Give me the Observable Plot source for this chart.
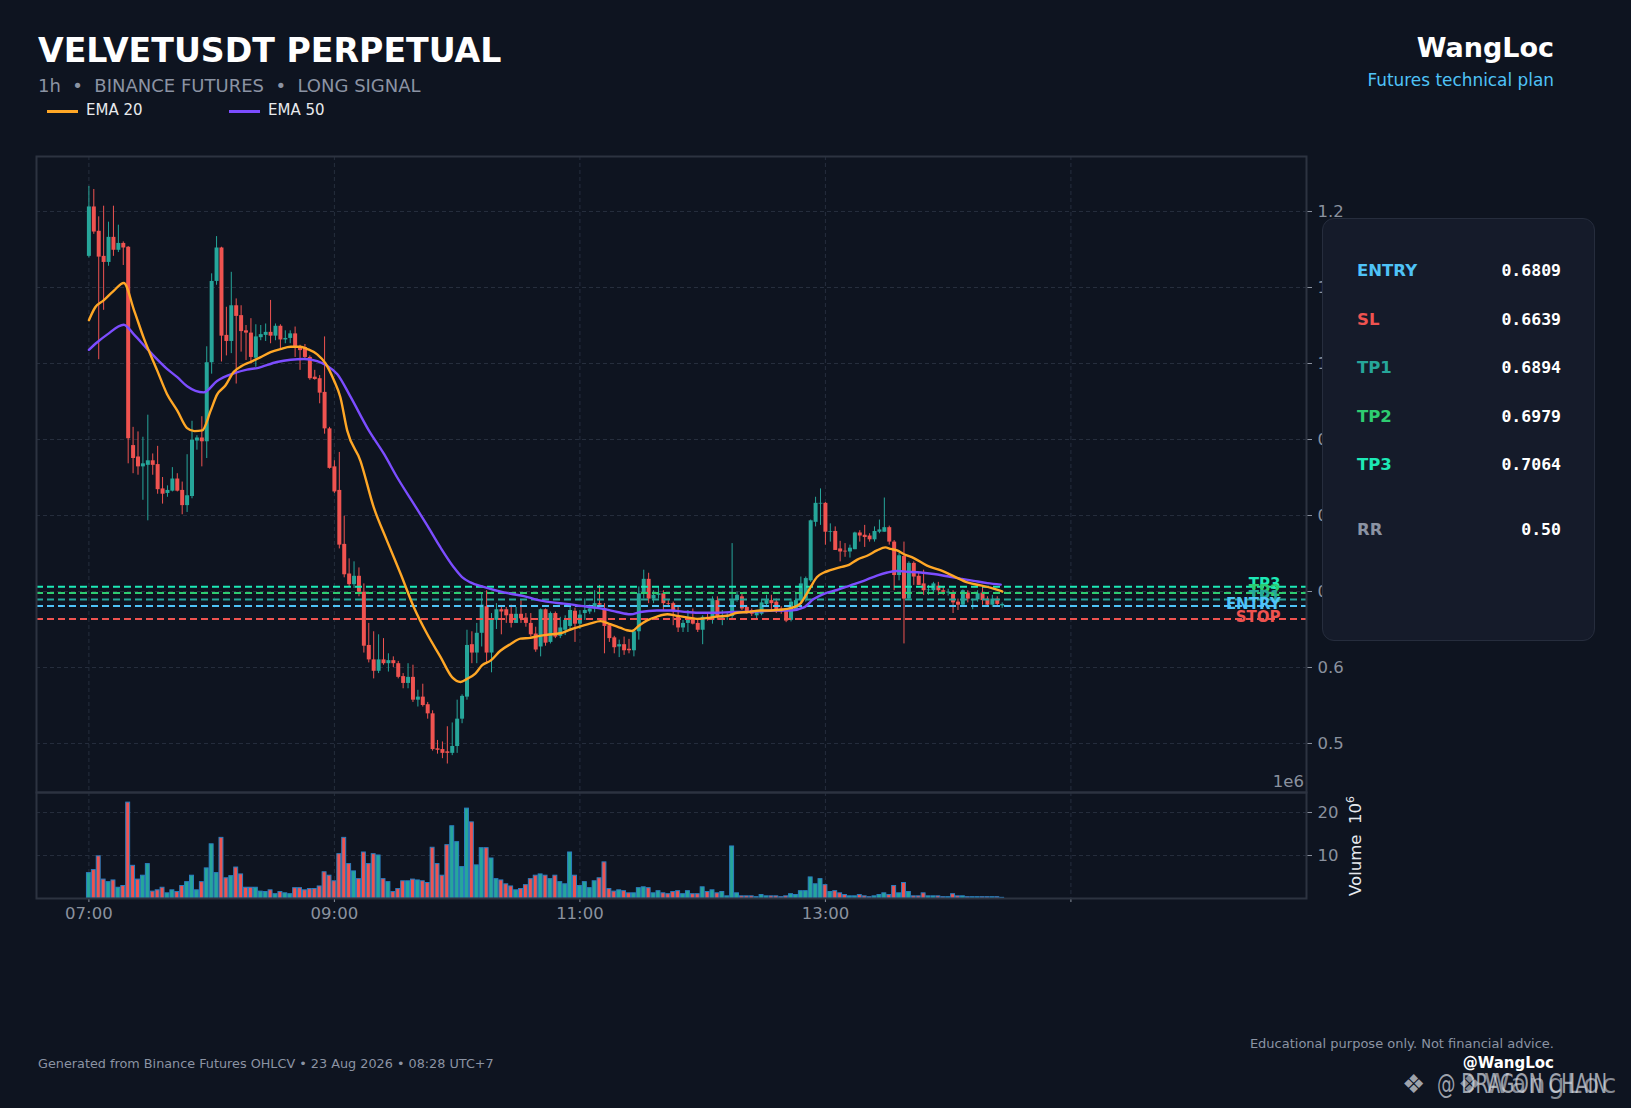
<!DOCTYPE html>
<html><head><meta charset="utf-8">
<script src="https://cdn.jsdelivr.net/npm/d3@7"></script>
<script src="https://cdn.jsdelivr.net/npm/@observablehq/plot@0.6"></script>
<style>
body{margin:0;background:#0e1420;}
#root{position:relative;width:1631px;height:1108px;background:#0e1420;overflow:hidden;font-family:"DejaVu Sans",sans-serif;}
.abs{position:absolute;white-space:pre;line-height:1;}
#price,#vol{position:absolute;left:0;}
#price{top:0;} #vol{top:792px;}
#panel{position:absolute;left:1322px;top:218px;width:271px;height:421px;background:#151b2a;border:1.5px solid #262d3d;border-radius:12px;}
.lbl{position:absolute;left:34px;font-weight:bold;font-size:16.5px;line-height:1;}
.val{position:absolute;right:33px;font-family:"DejaVu Sans Mono",monospace;font-weight:bold;font-size:16.5px;color:#ffffff;line-height:1;}
.wm{position:absolute;white-space:pre;line-height:1;font-size:26px;color:rgba(215,219,226,0.72);transform-origin:0 50%;}
</style></head><body>
<div id="root">
  <div id="price"></div>
  <div id="vol"></div>
  <div class="abs" style="left:38px;top:34px;font-size:33.2px;font-weight:bold;color:#ffffff;">VELVETUSDT PERPETUAL</div>
  <div class="abs" style="left:38px;top:77px;font-size:18px;color:#8b93a3;">1h  •  BINANCE FUTURES  •  LONG SIGNAL</div>
  <div id="legend"></div>
  <div class="abs" style="right:77px;top:34px;font-size:27px;font-weight:bold;color:#ffffff;">WangLoc</div>
  <div class="abs" style="right:77px;top:71.5px;font-size:16.9px;color:#4fc3f7;">Futures technical plan</div>
  <div id="panel"></div>
  <div class="abs" style="right:327px;top:774px;font-size:16.5px;color:#8a919e;">1e6</div>
  <div class="abs" style="left:1355px;top:846px;font-size:16.5px;color:#e6e9ee;transform:translate(-50%,-50%) rotate(-90deg);">Volume  10<sup style="font-size:11px;vertical-align:7px;">6</sup></div>
  <div class="abs" style="left:38px;top:1057.5px;font-size:12.8px;color:#8b93a3;">Generated from Binance Futures OHLCV • 23 Aug 2026 • 08:28 UTC+7</div>
  <div class="abs" style="right:77px;top:1036.5px;font-size:13px;color:#8b93a3;">Educational purpose only. Not financial advice.</div>
  <div class="abs" style="right:77px;top:1056px;font-size:15px;font-weight:bold;color:#ffffff;">@WangLoc</div>
  <div class="wm" style="left:1402px;top:1071px;">❖</div>
  <div class="wm" style="left:1437px;top:1071px;transform:scaleX(0.71);">@ DRAGON CHAIN</div>
  <div class="wm" style="left:1458px;top:1071px;color:rgba(215,219,226,0.6);">❖</div>
  <div class="wm" style="left:1484px;top:1071px;letter-spacing:2.5px;color:rgba(215,219,226,0.6);">WangLoc</div>
</div>
<script>
// ---------------- DATA ----------------
const opens = [
1.141,1.206,1.174,1.141,1.133,1.166,1.149,1.158,1.153,0.892,
0.877,0.864,0.866,0.872,0.867,0.835,0.829,0.832,0.848,0.833,
0.813,0.825,0.898,0.902,0.897,1.001,1.108,1.152,1.037,1.029,
1.076,1.063,1.043,1.040,1.007,1.034,1.037,1.041,1.036,1.049,
1.031,1.033,1.039,1.022,1.021,1.008,0.982,0.980,0.962,0.914,
0.864,0.833,0.762,0.723,0.709,0.720,0.699,0.629,0.610,0.595,
0.610,0.605,0.609,0.605,0.588,0.579,0.587,0.557,0.561,0.551,
0.539,0.493,0.492,0.489,0.487,0.496,0.532,0.561,0.630,0.619,
0.645,0.680,0.619,0.662,0.676,0.676,0.670,0.658,0.670,0.665,
0.658,0.644,0.627,0.676,0.633,0.671,0.641,0.649,0.654,0.674,
0.657,0.671,0.673,0.677,0.684,0.677,0.655,0.639,0.627,0.630,
0.624,0.622,0.647,0.697,0.716,0.690,0.695,0.697,0.684,0.684,
0.666,0.652,0.658,0.665,0.658,0.649,0.666,0.662,0.688,0.665,
0.666,0.667,0.688,0.693,0.679,0.675,0.668,0.670,0.683,0.688,
0.686,0.677,0.674,0.662,0.675,0.688,0.690,0.714,0.791,0.815,
0.816,0.778,0.779,0.756,0.753,0.752,0.755,0.777,0.774,0.773,
0.768,0.778,0.778,0.784,0.765,0.721,0.746,0.690,0.737,0.720,
0.710,0.701,0.701,0.707,0.701,0.698,0.698,0.686,0.682,0.698,
0.688,0.689,0.698,0.690,0.682,0.690,0.681];
const highs = [
1.233,1.229,1.193,1.207,1.186,1.207,1.182,1.160,1.154,0.916,
0.910,0.903,0.932,0.881,0.891,0.850,0.839,0.863,0.855,0.844,
0.880,0.924,0.905,0.930,1.022,1.118,1.167,1.153,1.074,1.120,
1.085,1.076,1.050,1.059,1.051,1.050,1.052,1.083,1.052,1.051,
1.043,1.043,1.048,1.024,1.025,1.010,0.991,0.984,1.035,0.916,
0.872,0.883,0.799,0.743,0.739,0.731,0.710,0.658,0.647,0.643,
0.638,0.618,0.614,0.608,0.592,0.605,0.603,0.570,0.578,0.554,
0.543,0.504,0.502,0.522,0.527,0.557,0.564,0.649,0.647,0.658,
0.697,0.701,0.671,0.684,0.679,0.679,0.682,0.679,0.688,0.671,
0.671,0.653,0.677,0.677,0.673,0.673,0.666,0.668,0.684,0.678,
0.675,0.690,0.682,0.701,0.708,0.684,0.656,0.641,0.636,0.640,
0.637,0.650,0.706,0.728,0.724,0.701,0.706,0.701,0.688,0.686,
0.679,0.662,0.675,0.677,0.662,0.668,0.671,0.693,0.693,0.675,
0.672,0.763,0.699,0.697,0.681,0.677,0.675,0.690,0.695,0.695,
0.690,0.680,0.676,0.690,0.697,0.719,0.719,0.794,0.824,0.835,
0.817,0.789,0.785,0.766,0.763,0.761,0.778,0.780,0.787,0.776,
0.785,0.794,0.823,0.786,0.767,0.750,0.765,0.739,0.739,0.725,
0.728,0.708,0.712,0.712,0.706,0.703,0.701,0.690,0.702,0.701,
0.690,0.701,0.706,0.693,0.695,0.693,0.685];
const lows = [
1.139,1.170,1.005,1.070,1.128,1.141,1.146,1.129,0.868,0.855,
0.853,0.820,0.793,0.853,0.828,0.815,0.824,0.831,0.831,0.801,
0.804,0.822,0.886,0.864,0.875,0.986,1.103,1.002,1.010,1.013,
0.973,1.015,1.004,0.999,0.995,1.030,1.029,1.026,1.030,1.019,
1.026,1.026,1.008,0.991,1.004,0.978,0.978,0.947,0.907,0.861,
0.829,0.756,0.718,0.706,0.704,0.693,0.619,0.606,0.585,0.592,
0.603,0.594,0.600,0.585,0.572,0.572,0.554,0.548,0.548,0.532,
0.490,0.486,0.480,0.473,0.484,0.487,0.526,0.557,0.605,0.605,
0.627,0.605,0.593,0.650,0.643,0.658,0.652,0.658,0.658,0.653,
0.640,0.620,0.614,0.628,0.631,0.638,0.638,0.642,0.649,0.633,
0.650,0.662,0.670,0.672,0.680,0.618,0.633,0.618,0.613,0.616,
0.618,0.614,0.636,0.690,0.684,0.684,0.690,0.675,0.679,0.655,
0.646,0.646,0.646,0.656,0.646,0.630,0.661,0.657,0.662,0.655,
0.662,0.662,0.686,0.675,0.670,0.667,0.664,0.668,0.680,0.675,
0.671,0.670,0.659,0.660,0.674,0.684,0.686,0.712,0.785,0.787,
0.761,0.765,0.754,0.739,0.745,0.744,0.755,0.765,0.758,0.765,
0.765,0.776,0.778,0.761,0.701,0.714,0.631,0.688,0.708,0.708,
0.695,0.695,0.699,0.695,0.695,0.694,0.671,0.675,0.679,0.685,
0.676,0.686,0.682,0.679,0.679,0.679,0.678];
const closes = [
1.206,1.173,1.140,1.133,1.166,1.149,1.158,1.152,0.901,0.875,
0.864,0.868,0.872,0.866,0.834,0.828,0.833,0.848,0.832,0.813,
0.826,0.899,0.902,0.897,1.001,1.108,1.152,1.036,1.029,1.076,
1.062,1.042,1.040,1.008,1.035,1.038,1.041,1.036,1.049,1.031,
1.033,1.039,1.021,1.017,1.008,0.980,0.979,0.961,0.914,0.862,
0.831,0.761,0.722,0.709,0.720,0.699,0.628,0.610,0.595,0.610,
0.605,0.609,0.605,0.587,0.579,0.587,0.557,0.561,0.550,0.539,
0.492,0.491,0.487,0.487,0.496,0.532,0.562,0.629,0.619,0.645,
0.682,0.619,0.662,0.676,0.673,0.668,0.658,0.670,0.664,0.658,
0.643,0.623,0.676,0.632,0.671,0.640,0.652,0.662,0.675,0.657,
0.669,0.675,0.677,0.684,0.682,0.654,0.638,0.626,0.630,0.622,
0.622,0.647,0.697,0.716,0.690,0.695,0.697,0.684,0.683,0.675,
0.652,0.658,0.664,0.657,0.649,0.666,0.664,0.688,0.666,0.667,
0.667,0.688,0.695,0.677,0.673,0.670,0.673,0.685,0.688,0.684,
0.675,0.673,0.661,0.686,0.688,0.710,0.717,0.793,0.816,0.816,
0.778,0.779,0.754,0.752,0.752,0.757,0.777,0.773,0.771,0.768,
0.779,0.781,0.784,0.765,0.721,0.747,0.690,0.737,0.719,0.708,
0.701,0.702,0.710,0.701,0.699,0.699,0.685,0.682,0.701,0.690,
0.689,0.697,0.688,0.682,0.690,0.683,0.683];
// volume in millions
const volumes = [
5.9,6.6,9.8,4.4,3.8,4.2,2.5,2.9,22.3,7.6,
4.4,5.3,8.0,1.6,1.9,2.5,1.2,1.9,1.5,2.9,
3.8,5.3,1.9,3.8,7.0,12.6,5.9,14.1,4.7,5.2,
7.2,5.6,2.5,2.5,2.5,1.6,1.5,1.9,1.0,1.5,
1.2,1.0,2.4,2.4,1.9,2.2,2.2,2.8,6.1,5.3,
4.0,10.3,14.1,8.0,6.3,4.5,10.7,8.0,10.3,10.0,
4.5,3.8,1.5,2.2,4.0,4.0,4.4,4.2,4.0,3.6,
11.8,8.0,5.3,12.4,16.8,13.1,7.3,20.9,17.7,7.7,
11.7,11.7,9.3,4.5,4.2,3.3,2.8,1.9,2.2,3.1,
4.5,5.3,5.6,5.3,4.5,5.3,3.8,3.3,10.7,5.3,
2.9,3.8,2.4,4.0,4.7,8.4,2.2,1.6,1.9,1.7,
1.2,1.2,2.4,2.6,2.4,1.2,1.7,1.2,1.0,1.5,
1.7,1.0,1.7,1.0,1.0,2.6,1.5,1.9,1.2,1.5,
0.5,12.1,1.2,0.5,0.5,0.5,0.3,0.8,0.5,0.5,
0.5,0.3,0.5,1.0,0.8,1.7,1.7,4.9,3.3,4.5,
3.1,1.5,1.7,1.2,0.8,0.5,0.5,0.8,0.5,0.3,
0.5,0.8,1.2,0.8,2.9,1.2,3.6,1.5,0.5,0.5,
1.2,0.5,0.5,0.5,0.3,0.3,1.0,0.5,0.5,0.3,
0.3,0.3,0.3,0.3,0.3,0.3,0.15];
// EMA readings (candle position, value)
const ema20Pos = [0,1.3,3,5.1,7.1,9.2,11.2,13.9,15.9,18,20,21.5,23.1,24.8,26.1,27.8,29.5,31.2,32.9,34.9,37,39,41.1,43.1,44.5,46.5,48.2,49.9,51.2,52.6,55.3,58,60.7,63.5,66.2,68.9,71.6,74,75.7,77,78.7,80.1,81.8,83.8,85.9,87.9,89.9,91.3,93.3,96,98.1,100.1,102.2,104.2,106.2,108.3,109.6,110.6,112,113.7,115.7,117.8,119.8,121.8,123.9,125.9,127.9,130,132,134.1,136.8,138.8,140.9,142.9,144.9,146,147,148.3,149.7,151,153.1,154.8,156.5,158.5,160.5,162.2,163.3,164.6,166,168,170.7,173.4,176.2,178.9,181.6,183.6,186];
const ema20Val = [1.057,1.074,1.083,1.096,1.106,1.070,1.033,0.991,0.960,0.938,0.915,0.911,0.912,0.938,0.959,0.971,0.989,0.997,1.002,1.008,1.015,1.019,1.022,1.022,1.019,1.012,1.000,0.978,0.956,0.912,0.872,0.811,0.767,0.723,0.679,0.644,0.614,0.587,0.581,0.585,0.592,0.603,0.609,0.622,0.631,0.638,0.639,0.641,0.643,0.645,0.650,0.654,0.658,0.661,0.657,0.652,0.649,0.648,0.655,0.662,0.667,0.670,0.668,0.666,0.664,0.665,0.667,0.668,0.672,0.673,0.675,0.675,0.676,0.678,0.684,0.695,0.706,0.719,0.725,0.728,0.732,0.735,0.742,0.747,0.754,0.758,0.756,0.754,0.749,0.744,0.734,0.728,0.720,0.712,0.708,0.705,0.700];
const ema50Pos = [0,1.7,3.7,7.1,9.2,11.9,15.9,18,20,23.4,26.1,29.5,32.2,34.3,38.3,41.1,43.8,46.5,48.5,50.6,53.3,57,60.1,62.8,66.2,68.9,71.6,74.3,76,77.7,80.4,83.1,85.9,88.6,91.3,94,96.7,98.1,100.1,102.8,104.9,107.6,110.3,112.3,115.7,118.5,121.8,124.6,127.9,131.4,134.1,136.8,139.5,142.9,145.6,147.6,149.7,152.4,155.1,157.8,160.5,162.6,164.6,166.7,169.4,172.1,174.8,177.5,180.2,183,185.7];
const ema50Val = [1.018,1.028,1.038,1.051,1.038,1.019,0.993,0.982,0.970,0.962,0.977,0.987,0.992,0.994,1.002,1.005,1.006,1.003,0.997,0.986,0.956,0.912,0.881,0.850,0.815,0.787,0.758,0.732,0.719,0.712,0.706,0.701,0.697,0.694,0.689,0.686,0.684,0.683,0.681,0.679,0.677,0.673,0.670,0.673,0.675,0.675,0.673,0.672,0.672,0.673,0.673,0.674,0.675,0.675,0.679,0.690,0.697,0.702,0.708,0.714,0.721,0.725,0.727,0.726,0.725,0.723,0.720,0.717,0.714,0.711,0.709];
// trade levels
const levelNames = ["TP3","TP2","TP1","ENTRY","STOP"];
const levelValues = [0.7064,0.6979,0.6894,0.6809,0.6639];
const levelColors = ["#1de9b6","#2ecc71","#26a69a","#4fc3f7","#ef5350"];
// info panel
const panelLabels = ["ENTRY","SL","TP1","TP2","TP3","RR"];
const panelValues = ["0.6809","0.6639","0.6894","0.6979","0.7064","0.50"];
const panelColors = ["#4fc3f7","#ef5350","#26a69a","#2ecc71","#1de9b6","#8b93a3"];
// axes
const xTickPos = [0,50,100,150,200];
const xTickLabels = ["07:00","09:00","11:00","13:00",""];
const priceTicks = [0.5,0.6,0.7,0.8,0.9,1.0,1.1,1.2];
const volTicks = [10,20];
// legend
const legendNames = ["EMA 20","EMA 50"];
const legendColors = ["#ffa726","#7c4dff"];

// ---------------- BUILD ----------------
const UP = "#26a69a", DOWN = "#ef5350";
const GRID = "#262e3d", FRAME = "#2c3340", AXIS = "#8a919e";
const candles = opens.map((o, i) => ({i, o, h: highs[i], l: lows[i], c: closes[i], v: volumes[i], col: closes[i] >= o ? UP : DOWN}));
const ema20 = ema20Pos.map((p, k) => ({p, v: ema20Val[k]}));
const ema50 = ema50Pos.map((p, k) => ({p, v: ema50Val[k]}));
const levels = levelNames.map((name, k) => ({name, value: levelValues[k], color: levelColors[k]}));
const xLabel = new Map(xTickPos.map((p, k) => [p, xTickLabels[k]]));
const xDomain = [-10.672, 247.98];
const baseStyle = {background: "transparent", color: AXIS, fontFamily: "DejaVu Sans, sans-serif", fontSize: "16.5px", overflow: "visible", maxWidth: "none"};

const price = Plot.plot({
  width: 1631, height: 792, marginTop: 156, marginBottom: 0, marginLeft: 36, marginRight: 325,
  x: {domain: xDomain, axis: null},
  y: {domain: [0.4355, 1.2724]},
  color: {type: "identity"},
  style: baseStyle,
  marks: [
    Plot.gridX({ticks: xTickPos, stroke: GRID, strokeOpacity: 1, strokeDasharray: "4,3"}),
    Plot.gridY({ticks: priceTicks, stroke: GRID, strokeOpacity: 1, strokeDasharray: "4,3"}),
    Plot.ruleX(candles, {x: "i", y1: "l", y2: "h", stroke: "col", strokeWidth: 1}),
    Plot.ruleX(candles, {x: "i", y1: "o", y2: "c", stroke: "col", strokeWidth: 4}),
    Plot.ruleY(levels, {y: "value", stroke: "color", strokeWidth: 2, strokeDasharray: "7,4"}),
    Plot.line(ema50, {x: "p", y: "v", stroke: "#7c4dff", strokeWidth: 2.4, curve: "monotone-x"}),
    Plot.line(ema20, {x: "p", y: "v", stroke: "#ffa726", strokeWidth: 2.4, curve: "monotone-x"}),
    Plot.text(levels, {y: "value", text: "name", fill: "color", frameAnchor: "right", dx: -26, dy: -2, textAnchor: "end", fontWeight: "bold", fontSize: 15}),
    Plot.axisY({ticks: priceTicks, anchor: "right", tickSize: 5, tickPadding: 6, tickFormat: d3.format(".1f"), label: null, fontSize: 16.5}),
    Plot.frame({stroke: FRAME, strokeWidth: 2})
  ]
});
document.getElementById("price").append(price);

const vol = Plot.plot({
  width: 1631, height: 146, marginTop: 0, marginBottom: 40, marginLeft: 36, marginRight: 325,
  x: {domain: xDomain},
  y: {domain: [0, 24.65]},
  color: {type: "identity"},
  style: baseStyle,
  marks: [
    Plot.gridX({ticks: xTickPos, stroke: GRID, strokeOpacity: 1, strokeDasharray: "4,3"}),
    Plot.gridY({ticks: volTicks, stroke: GRID, strokeOpacity: 1, strokeDasharray: "4,3"}),
    Plot.rect(candles, {x1: d => d.i - 0.4, x2: d => d.i + 0.4, y1: 0, y2: "v", fill: "col", stroke: "#2a7fc0", strokeWidth: 1}),
    Plot.axisY({ticks: volTicks, anchor: "right", tickSize: 5, tickPadding: 6, label: null, fontSize: 16.5}),
    Plot.axisX({ticks: xTickPos, anchor: "bottom", tickSize: 4, tickPadding: 5, tickFormat: d => xLabel.get(d), label: null, fontSize: 16.5}),
    Plot.frame({stroke: FRAME, strokeWidth: 2})
  ]
});
document.getElementById("vol").append(vol);

// legend
const lg = document.getElementById("legend");
const legendX = [[47, 86], [229, 268]];
legendNames.forEach((name, k) => {
  const line = document.createElement("div");
  line.style.cssText = `position:absolute;left:${legendX[k][0]}px;top:109.5px;width:31px;height:3px;background:${legendColors[k]};`;
  const txt = document.createElement("div");
  txt.className = "abs";
  txt.style.cssText += `left:${legendX[k][1]}px;top:102.5px;font-size:15px;color:#e8eaed;`;
  txt.textContent = name;
  lg.append(line, txt);
});

// info panel
const panel = document.getElementById("panel");
const rowCenters = [271, 320, 368, 417, 465, 530];
panelLabels.forEach((name, k) => {
  const top = rowCenters[k] - 8 - 219.5;
  const l = document.createElement("div");
  l.className = "lbl"; l.style.top = top + "px"; l.style.color = panelColors[k]; l.textContent = name;
  const v = document.createElement("div");
  v.className = "val"; v.style.top = top + "px"; v.textContent = panelValues[k];
  panel.append(l, v);
});
</script>
</body></html>
